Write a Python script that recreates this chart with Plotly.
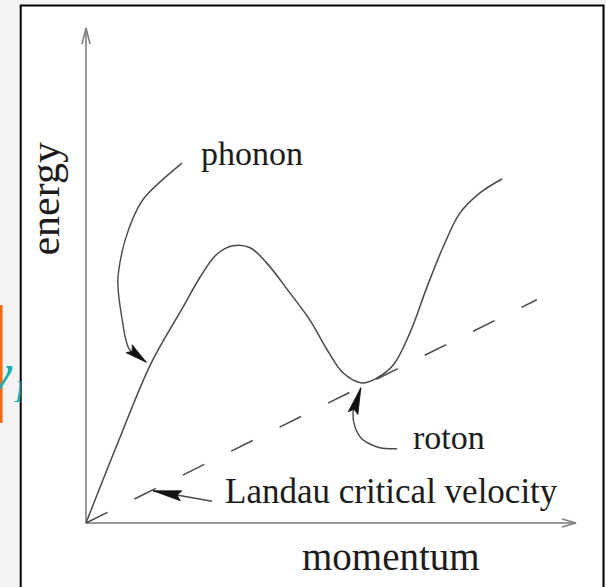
import numpy as np
import plotly.graph_objects as go

# ---------------- data (arbitrary units) ----------------
# superfluid helium dispersion relation E(p): phonon branch, maxon, roton minimum
momentum = [0.00, 0.65, 1.33, 1.98, 2.33, 2.67, 3.00, 3.35, 3.69, 4.16, 4.57,
            4.92, 5.25, 5.63, 5.94, 6.27, 6.61, 6.96, 7.29, 7.63, 8.04, 8.49]
energy = [0.00, 1.62, 3.23, 4.36, 4.97, 5.43, 5.60, 5.56, 5.25, 4.65, 4.10,
          3.50, 3.03, 2.83, 2.93, 3.19, 3.84, 4.77, 5.58, 6.26, 6.67, 6.95]

# Landau critical velocity line E = v_c p (tangent at the roton minimum)
landau_p = [0.0, 9.20]
landau_E = [0.0, 4.51]

# axis extents
axis_p_max = 10.0
axis_E_max = 10.0

# curved pointer shafts (end at the arrowhead base) and arrowhead tips
phonon_shaft_p = [1.96, 1.16, 0.80, 0.65, 0.73, 0.88]
phonon_shaft_E = [7.27, 6.53, 5.72, 4.91, 4.16, 3.52]
phonon_tip = (1.23, 3.25)

roton_shaft_p = [6.35, 6.00, 5.65, 5.49, 5.45]
roton_shaft_E = [1.50, 1.52, 1.68, 1.94, 2.22]
roton_tip = (5.61, 2.73)

landau_shaft_p = [2.57, 1.94]
landau_shaft_E = [0.44, 0.55]
landau_tip = (1.37, 0.65)

# text labels: (text, p, E, font size)
labels = [
    ("phonon", 2.30, 7.47, 34),
    ("roton", 6.64, 1.72, 34),
    ("Landau critical velocity", 2.80, 0.63, 35),
]
x_title = ("momentum", 6.22, -0.67)
y_title = ("energy", -0.84, 6.55)

# ---------------- page geometry (pixels) ----------------
W, H = 606, 587
ORIGIN_X, ORIGIN_Y = 86, 523          # where p = 0, E = 0 sits on the page
PX_X, PX_Y = 49.0, 49.5               # pixels per unit
FRAME_L, FRAME_T, FRAME_R = 20.7, 5.5, 603.5

x_range = [(0 - ORIGIN_X) / PX_X, (W - ORIGIN_X) / PX_X]
y_range = [(ORIGIN_Y - H) / PX_Y, ORIGIN_Y / PX_Y]

SERIF = "Liberation Serif, Times New Roman, serif"
INK = "#1c1c1c"
CURVE = "#4a4a4a"
AXIS = "#9a9a9a"


def to_px(x, y):
    return ORIGIN_X + x * PX_X, ORIGIN_Y - y * PX_Y


def to_data(px, py):
    return (px - ORIGIN_X) / PX_X, (ORIGIN_Y - py) / PX_Y


def head_polygon(tip, length, half_w, notch, direction):
    """Barbed arrowhead polygon; direction is a pixel-space vector pointing to the tip."""
    tx, ty = to_px(*tip)
    dx, dy = direction
    n = np.hypot(dx, dy)
    ux, uy = dx / n, dy / n
    nx, ny = -uy, ux
    bx, by = tx - ux * length, ty - uy * length
    pts = [(tx, ty),
           (bx + nx * half_w, by + ny * half_w),
           (bx + ux * notch, by + uy * notch),
           (bx - nx * half_w, by - ny * half_w),
           (tx, ty)]
    xs, ys = zip(*[to_data(*p) for p in pts])
    return list(xs), list(ys)


def open_head(tip, length, half_w, direction):
    tx, ty = to_px(*tip)
    dx, dy = direction
    n = np.hypot(dx, dy)
    ux, uy = dx / n, dy / n
    nx, ny = -uy, ux
    bx, by = tx - ux * length, ty - uy * length
    pts = [(bx + nx * half_w, by + ny * half_w), (tx, ty),
           (bx - nx * half_w, by - ny * half_w)]
    xs, ys = zip(*[to_data(*p) for p in pts])
    return list(xs), list(ys)


def dir_to(tip, base):
    tx, ty = to_px(*tip)
    bx, by = to_px(*base)
    return tx - bx, ty - by


fig = go.Figure()

# axes with arrowheads
fig.add_trace(go.Scatter(x=[0, axis_p_max], y=[0, 0], mode="lines",
                         line=dict(color=AXIS, width=2), hoverinfo="skip"))
fig.add_trace(go.Scatter(x=[0, 0], y=[0, axis_E_max], mode="lines",
                         line=dict(color=AXIS, width=2), hoverinfo="skip"))
hx, hy = open_head((axis_p_max, 0), 14, 4, (1, 0))
fig.add_trace(go.Scatter(x=hx, y=hy, mode="lines",
                         line=dict(color="#808080", width=1.6), hoverinfo="skip"))
hx, hy = open_head((0, axis_E_max), 16, 4, (0, -1))
fig.add_trace(go.Scatter(x=hx, y=hy, mode="lines",
                         line=dict(color="#808080", width=1.6), hoverinfo="skip"))

# dispersion curve
fig.add_trace(go.Scatter(x=momentum, y=energy, mode="lines",
                         line=dict(color=CURVE, width=1.5, shape="spline", smoothing=1.0),
                         hoverinfo="skip"))

# Landau critical velocity (dashed)
fig.add_trace(go.Scatter(x=landau_p, y=landau_E, mode="lines",
                         line=dict(color=CURVE, width=1.5, dash="24px,30px"),
                         hoverinfo="skip"))

# curved pointers
for sp, se, tip in [(phonon_shaft_p, phonon_shaft_E, phonon_tip),
                    (roton_shaft_p, roton_shaft_E, roton_tip),
                    (landau_shaft_p, landau_shaft_E, landau_tip)]:
    fig.add_trace(go.Scatter(x=sp + [tip[0]], y=se + [tip[1]], mode="lines",
                             line=dict(color=CURVE, width=1.4, shape="spline", smoothing=0.8),
                             hoverinfo="skip"))
    base = (sp[-1], se[-1])
    d = dir_to(tip, base)
    length = float(np.hypot(*d))
    hx, hy = head_polygon(tip, length, 5, 4, d)
    fig.add_trace(go.Scatter(x=hx, y=hy, mode="lines", fill="toself",
                             fillcolor="#111111", line=dict(color="#111111", width=0.8),
                             hoverinfo="skip"))

# text labels
for text, px_, ey, size in labels:
    fig.add_annotation(x=px_, y=ey, text=text, showarrow=False, xanchor="left",
                       yanchor="middle", font=dict(family=SERIF, size=size, color=INK))
fig.add_annotation(x=x_title[1], y=x_title[2], text=x_title[0], showarrow=False,
                   xanchor="center", yanchor="middle",
                   font=dict(family=SERIF, size=39, color=INK))
fig.add_annotation(x=y_title[1], y=y_title[2], text=y_title[0], showarrow=False,
                   textangle=-90, xanchor="center", yanchor="middle",
                   font=dict(family=SERIF, size=42, color=INK))

# neighbouring slide content peeking in at the left edge
fig.add_trace(go.Scatter(x=[12.5], y=[377], text=["<i>v</i>"], mode="text",
                         textposition="middle left", xaxis="x2", yaxis="y2",
                         textfont=dict(family=SERIF, size=58, color="#18b0b4"),
                         hoverinfo="skip"))
fig.add_trace(go.Scatter(x=[14.5], y=[394], text=["<i>L</i>"], mode="text",
                         textposition="middle right", xaxis="x2", yaxis="y2",
                         textfont=dict(family=SERIF, size=32, color="#18b0b4"),
                         hoverinfo="skip"))

shapes = [
    # framed panel
    dict(type="rect", xref="paper", yref="paper", layer="below",
         x0=FRAME_L / W, x1=FRAME_R / W, y0=-0.05, y1=1 - FRAME_T / H,
         fillcolor="white", line=dict(color="black", width=2)),
    # orange box edge on the left
    dict(type="rect", xref="paper", yref="paper", layer="below",
         x0=0, x1=2.6 / W, y0=1 - 423 / H, y1=1 - 305 / H,
         fillcolor="#ff6a18", line=dict(width=0)),
]

fig.update_layout(
    width=W, height=H, margin=dict(l=0, r=0, t=0, b=0),
    paper_bgcolor="#f4f4f4", plot_bgcolor="rgba(0,0,0,0)",
    showlegend=False, shapes=shapes,
    xaxis=dict(domain=[0, 1], range=x_range, visible=False),
    yaxis=dict(domain=[0, 1], range=y_range, visible=False),
    xaxis2=dict(domain=[0, FRAME_L / W], range=[0, FRAME_L], visible=False, anchor="y2"),
    yaxis2=dict(domain=[0, 1], range=[H, 0], visible=False, anchor="x2"),
)

fig.write_html("out.html", config={"displayModeBar": False})
